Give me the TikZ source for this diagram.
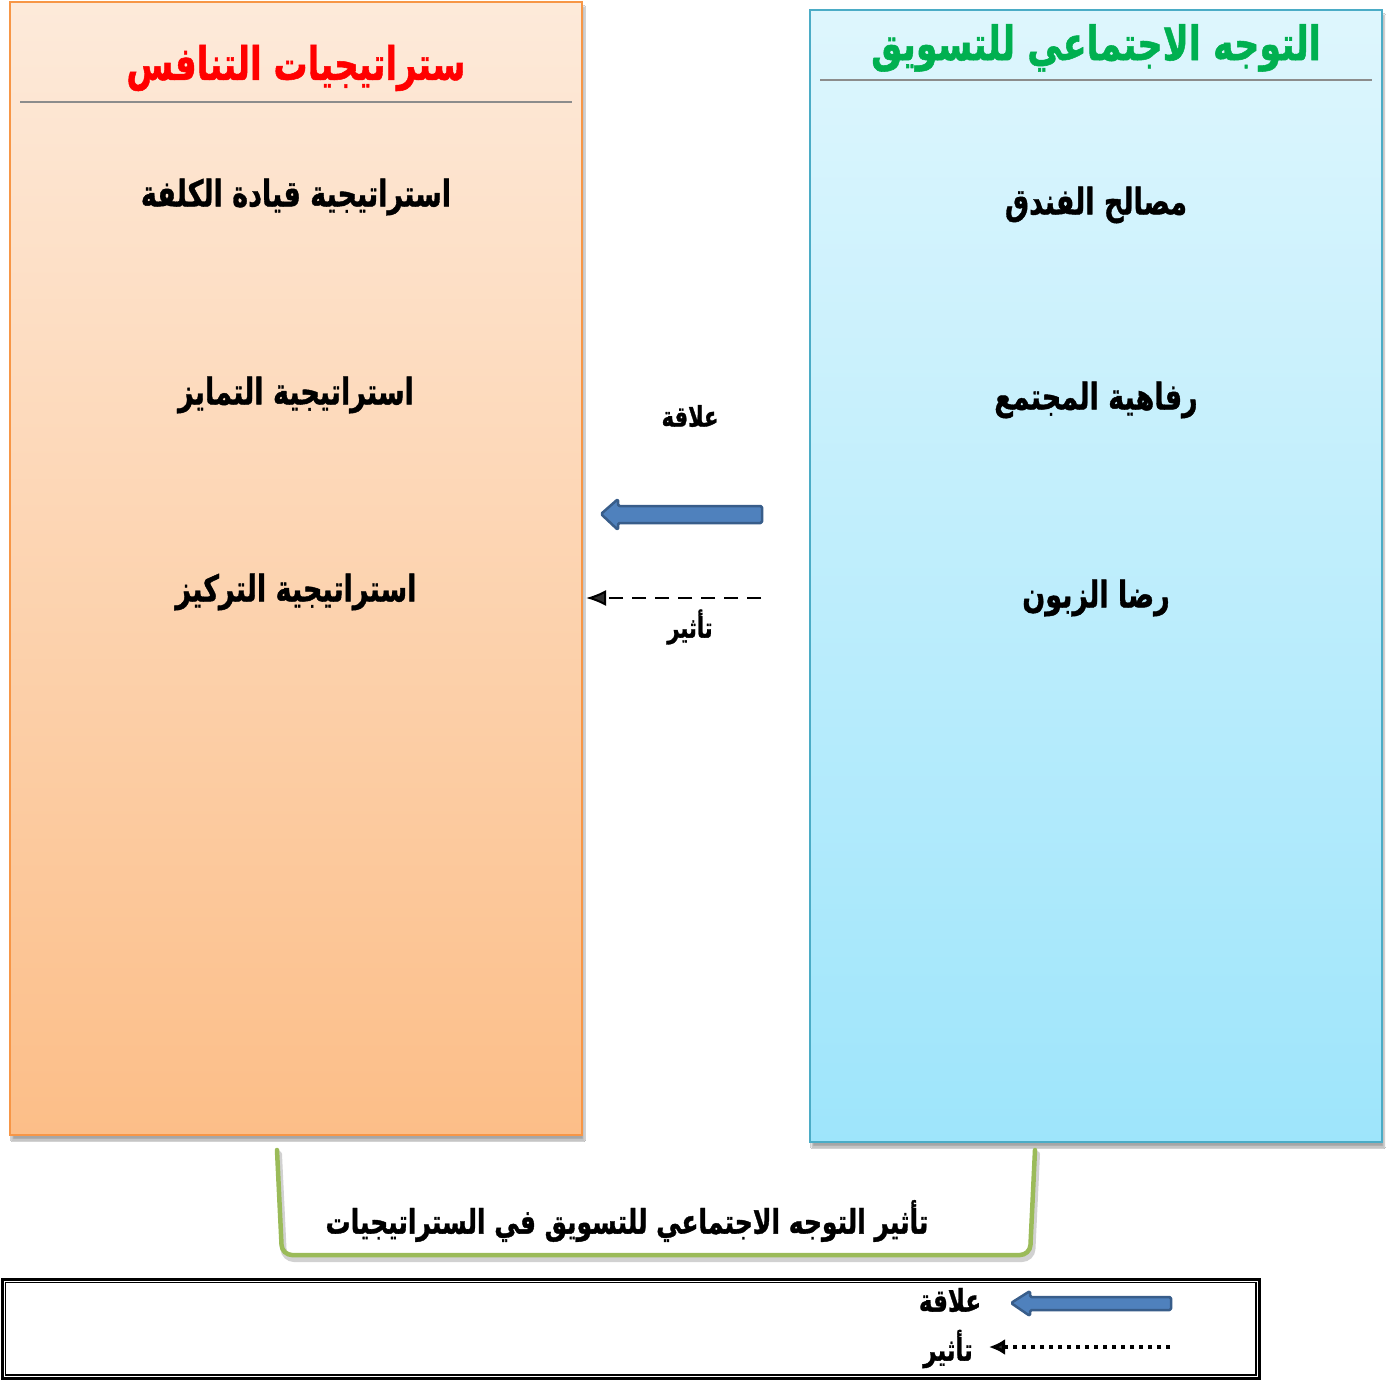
\documentclass[tikz,border=0pt]{standalone}
\usepackage{graphicx}
\usepackage{fontspec}
\TeXXeTstate=1
\newfontfamily\arabicfont[Script=Arabic,BoldFeatures={FakeBold=1.2}]{DejaVu Sans}
\usetikzlibrary{shadows.blur,arrows.meta,calc}

\definecolor{orangeEdge}{HTML}{F79646}
\definecolor{orangeTop}{RGB}{253,234,218}
\definecolor{orangeBot}{RGB}{252,190,136}
\definecolor{blueEdge}{HTML}{4BACC6}
\definecolor{blueTop}{RGB}{222,246,253}
\definecolor{blueBot}{RGB}{158,229,251}
\definecolor{titleRed}{HTML}{FF0000}
\definecolor{titleGreen}{HTML}{00B050}
\definecolor{arrowFill}{HTML}{4F81BD}
\definecolor{arrowEdge}{HTML}{385D8A}
\definecolor{braceGreen}{HTML}{9BBB59}
\definecolor{ruleGray}{HTML}{8C8C8C}

% right-to-left text, stretched a little vertically
\newcommand{\ar}[1]{\scalebox{1}[1.35]{\beginR #1\endR}}

\tikzset{
  panel/.style={line width=2pt, blur shadow={shadow xshift=2pt, shadow yshift=-5pt, shadow blur steps=6, shadow opacity=35}},
  leftpanel/.style={panel, draw=orangeEdge, top color=orangeTop, bottom color=orangeBot},
  rightpanel/.style={panel, draw=blueEdge, top color=blueTop, bottom color=blueBot},
  titlerule/.style={draw=ruleGray, line width=1.8pt},
  paneltitle/.style={font=\arabicfont\bfseries\fontsize{34}{40}\selectfont, inner sep=0pt},
  item/.style={font=\arabicfont\bfseries\fontsize{27}{32}\selectfont, inner sep=0pt},
  midlabel/.style={font=\arabicfont\bfseries\fontsize{21}{26}\selectfont, inner sep=0pt},
  caption/.style={font=\arabicfont\bfseries\fontsize{25}{30}\selectfont, inner sep=0pt},
  legendlabel/.style={font=\arabicfont\bfseries\fontsize{23}{28}\selectfont, inner sep=0pt},
  blockarrow/.style={fill=arrowFill, draw=arrowEdge, line width=2.5pt, line join=round, rounded corners=1.5pt},
  influence/.style={line width=2pt, dash pattern=on 14pt off 9pt, -{Latex[length=20pt,width=16pt]}},
  dotted influence/.style={line width=4pt, dash pattern=on 4pt off 5pt, -{Latex[length=16pt,width=16pt]}},
  bracket/.style={draw=braceGreen, line width=4.5pt, rounded corners=10pt, line cap=round},
  bracketshadow/.style={draw=black, opacity=0.18, line width=6pt, rounded corners=10pt, line cap=round}
}

\begin{document}
\begin{tikzpicture}[x=1pt,y=-1pt]
\useasboundingbox (0,0) rectangle (1397,1380);
\fill[white] (0,0) rectangle (1397,1380);

% two panels
\path[leftpanel] (10,2) rectangle (582,1135);
\path[rightpanel] (810,10) rectangle (1382,1142);

% panel titles and their rules
\node[paneltitle, text=titleRed] (ltitle) at (296,68) {\ar{ستراتيجيات التنافس}};
\draw[titlerule] (20,102) -- (572,102);
\node[paneltitle, text=titleGreen, font=\arabicfont\bfseries\fontsize{35}{40}\selectfont] (rtitle) at (1096,48) {\ar{التوجه الاجتماعي للتسويق}};
\draw[titlerule] (820,80) -- (1372,80);

% competitive strategies
\node[item] (s1) at (296,197) {\ar{استراتيجية قيادة الكلفة}};
\node[item] (s2) at (296,395) {\ar{استراتيجية التمايز}};
\node[item] (s3) at (296,592) {\ar{استراتيجية التركيز}};

% social marketing orientation
\node[item] (m1) at (1096,205) {\ar{مصالح الفندق}};
\node[item] (m2) at (1096,400) {\ar{رفاهية المجتمع}};
\node[item] (m3) at (1096,598) {\ar{رضا الزبون}};

% relation / influence between the panels
\node[midlabel] (rel) at (690,416) {\ar{علاقة}};
\coordinate (relTip) at (601,514);
\draw[blockarrow] (relTip) -- ++(17,-15) -- ++(0,7) -- ++(144,0) -- ++(0,17) -- ++(-144,0) -- ++(0,7) -- cycle;
\coordinate (infFrom) at (761,598);
\coordinate (infTo) at (586,598);
\draw[influence] (infFrom) -- (infTo);
\node[midlabel] (inf) at (690,627) {\ar{تأثير}};

% bracket under the panels with its caption
\coordinate (bl) at (277,1150);
\coordinate (br) at (1035,1150);
\draw[bracketshadow] ($(bl)+(2,4)$) -- (284,1259) -- (1032,1259) -- ($(br)+(2,4)$);
\draw[bracket] (bl) -- (282,1255) -- (1030,1255) -- (br);
\node[caption] (cap) at (627,1221) {\ar{تأثير التوجه الاجتماعي للتسويق في الستراتيجيات}};

% legend
\draw[line width=3pt] (2.5,1279.5) rectangle (1259.5,1378);
\draw[line width=1.2pt] (5.5,1282.5) rectangle (1256,1375);
\node[legendlabel] (lrel) at (950,1300) {\ar{علاقة}};
\coordinate (lrelTip) at (1011,1303);
\draw[blockarrow] (lrelTip) -- ++(19,-12) -- ++(0,6) -- ++(141,0) -- ++(0,13) -- ++(-141,0) -- ++(0,6) -- cycle;
\node[legendlabel] (linf) at (948,1349) {\ar{تأثير}};
\coordinate (linfFrom) at (1170,1347);
\coordinate (linfTo) at (989,1347);
\draw[dotted influence] (linfFrom) -- (linfTo);
\end{tikzpicture}
\end{document}
